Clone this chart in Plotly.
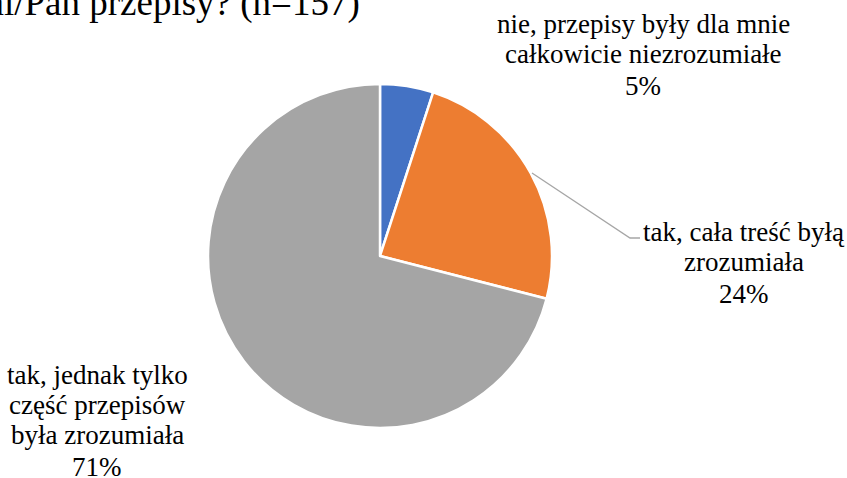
import plotly.graph_objects as go

labels = ["nie, przepisy były dla mnie\ncałkowicie niezrozumiałe",
          "tak, cała treść byłą\nzrozumiała",
          "tak, jednak tylko\nczęść przepisów\nbyła zrozumiała"]
values = [5, 24, 71]
colors = ["#4472C4", "#ED7D31", "#A5A5A5"]
title_text = "Czy zrozumiała Pani/Pan przepisy? (n=157)"

W, H = 847, 478
cx, cy, r = 380, 256, 172
SERIF = "Liberation Serif, Times New Roman, DejaVu Serif, serif"

fig = go.Figure(go.Pie(
    labels=[l.replace("\n", " ") for l in labels],
    values=values,
    sort=False,
    direction="clockwise",
    rotation=0,
    marker=dict(colors=colors, line=dict(color="white", width=2.5)),
    textinfo="none",
    hoverinfo="label+percent",
    showlegend=False,
    domain=dict(x=[(cx - r) / W, (cx + r) / W], y=[(H - cy - r) / H, (H - cy + r) / H]),
))

FS = 27
LH = 30
PCT_GAP = 2
# (x center, y center of first line) in px
label_pos = [(643, 24), (744, 232), (97, 375)]
total = sum(values)
annos = []
for lab, v, (px, py) in zip(labels, values, label_pos):
    lines = lab.split("\n") + [f"{round(100 * v / total)}%"]
    for i, ln in enumerate(lines):
        yy = py + i * LH + (PCT_GAP if i == len(lines) - 1 else 0)
        annos.append(dict(x=px / W, y=1 - yy / H, xref="paper", yref="paper",
                          text=ln, showarrow=False, xanchor="center", yanchor="middle",
                          font=dict(family=SERIF, size=FS, color="#000000")))

annos.append(dict(x=362 / W, y=1 - 3 / H, xref="paper", yref="paper", text=title_text,
                  showarrow=False, xanchor="right", yanchor="middle",
                  font=dict(family=SERIF, size=37, color="#000000")))

fig.update_layout(
    width=W, height=H,
    margin=dict(l=0, r=0, t=0, b=0),
    paper_bgcolor="white", plot_bgcolor="white",
    font=dict(family=SERIF),
    annotations=annos,
    shapes=[dict(type="path", xref="paper", yref="paper",
                 path=f"M {532/W} {1-173/H} L {630/W} {1-238/H} L {640/W} {1-238/H}",
                 line=dict(color="#A6A6A6", width=1.3))],
)

fig.write_html("out.html", config={"displayModeBar": False},
               post_script="document.body.style.margin='0';")
